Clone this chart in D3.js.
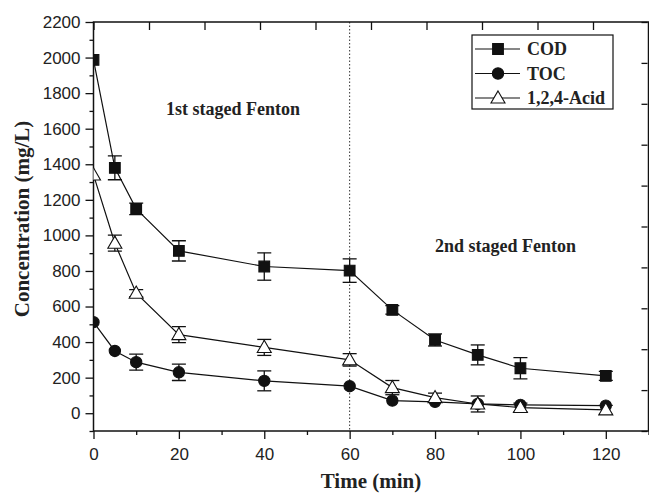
<!DOCTYPE html>
<html>
<head>
<meta charset="utf-8">
<script src="https://cdn.jsdelivr.net/npm/d3@7"></script>
<style>
  body { margin: 0; background: #fff; }
  svg { display: block; }
</style>
</head>
<body>
<svg id="chart" width="649" height="494"></svg>
<script>
// time points (min)
var times = [0, 5, 10, 20, 40, 60, 70, 80, 90, 100, 120];

// COD (mg/L) and error
var cod    = [1987, 1380, 1149, 913, 825, 802, 581, 412, 328, 253, 210];
var codErr = [0, 67, 32, 57, 77, 66, 24, 34, 56, 60, 25];

// TOC (mg/L) and error
var toc    = [512, 350, 287, 230, 182, 152, 71, 64, 52, 47, 43];
var tocErr = [0, 0, 45, 46, 56, 0, 0, 0, 0, 0, 0];

// 1,2,4-Acid (mg/L) and error
var acid    = [1340, 956, 675, 442, 370, 300, 144, 88, 52, 32, 19];
var acidErr = [0, 45, 20, 45, 45, 35, 40, 25, 45, 25, 25];

var xTicks = [0, 20, 40, 60, 80, 100, 120];
var yTicks = [0, 200, 400, 600, 800, 1000, 1200, 1400, 1600, 1800, 2000, 2200];

var svg = d3.select('#chart');
var padL = 93.5, padR = 648.5, padT = 22, padB = 431;

var x = d3.scaleLinear().domain([0, 130]).range([padL, padR]);
var y = d3.scaleLinear().domain([-100, 2200]).range([padB, padT]);

var tickFont = '"Liberation Sans", Arial, sans-serif';
var serif = '"Liberation Serif", "Times New Roman", serif';

svg.append('defs').append('clipPath').attr('id', 'plotclip')
    .append('rect')
    .attr('x', padL).attr('y', padT)
    .attr('width', padR - padL).attr('height', padB - padT);

// dotted separator at 60 min
svg.append('line')
    .attr('x1', x(60)).attr('x2', x(60))
    .attr('y1', padT).attr('y2', padB)
    .attr('stroke', '#333')
    .attr('stroke-width', 1)
    .attr('stroke-dasharray', '1.5,2');

// axes
function styleAxis(g) {
    g.selectAll('.domain').remove();
    g.selectAll('line').attr('stroke', '#111').attr('stroke-width', 1.3);
    g.selectAll('text').attr('font-family', tickFont).attr('font-size', '17px').attr('fill', '#222');
}

// bottom minor
svg.append('g')
    .attr('transform', 'translate(0,' + padB + ')')
    .call(d3.axisBottom(x).tickValues(d3.range(10, 131, 20)).tickSize(4).tickFormat(''))
    .call(styleAxis);
svg.append('g')
    .attr('transform', 'translate(0,' + padB + ')')
    .call(d3.axisBottom(x).tickValues(xTicks).tickSize(8).tickPadding(9).tickFormat(d3.format('d')))
    .call(styleAxis);

// left minor
svg.append('g')
    .attr('transform', 'translate(' + padL + ',0)')
    .call(d3.axisLeft(y).tickValues(d3.range(-100, 2200, 200)).tickSize(4).tickFormat(''))
    .call(styleAxis);
svg.append('g')
    .attr('transform', 'translate(' + padL + ',0)')
    .call(d3.axisLeft(y).tickValues(yTicks).tickSize(8).tickPadding(5).tickFormat(d3.format('d')))
    .call(styleAxis);

// top ticks (10 equal divisions, inward)
var xd = x.domain();
svg.append('g')
    .attr('transform', 'translate(0,' + padT + ')')
    .call(d3.axisBottom(x).tickValues(d3.range(0, 11).map(function(i) { return xd[0] + i * (xd[1] - xd[0]) / 10; })).tickSize(8).tickFormat(''))
    .call(styleAxis);

// right ticks (10 equal divisions, inward)
var yd = y.domain();
svg.append('g')
    .attr('transform', 'translate(' + (padR - 1) + ',0)')
    .call(d3.axisLeft(y).tickValues(d3.range(0, 11).map(function(i) { return yd[0] + i * (yd[1] - yd[0]) / 10; })).tickSize(6).tickFormat(''))
    .call(styleAxis);

// frame
svg.append('rect')
    .attr('x', padL).attr('y', padT)
    .attr('width', padR - padL).attr('height', padB - padT)
    .attr('fill', 'none')
    .attr('stroke', '#111')
    .attr('stroke-width', 1.5);

// series
var series = [
    { name: 'COD', values: cod, err: codErr, symbol: d3.symbolSquare, size: 115, fill: '#111' },
    { name: 'TOC', values: toc, err: tocErr, symbol: d3.symbolCircle, size: 100, fill: '#111' },
    { name: '1,2,4-Acid', values: acid, err: acidErr, symbol: d3.symbolTriangle, size: 85, fill: '#fff' }
];

var plot = svg.append('g').attr('clip-path', 'url(#plotclip)');

var line = d3.line()
    .x(function(d) { return x(d.t); })
    .y(function(d) { return y(d.v); });

series.forEach(function(s) {
    s.points = times.map(function(t, i) { return { t: t, v: s.values[i], e: s.err[i] }; });
    plot.append('path')
        .datum(s.points)
        .attr('d', line)
        .attr('fill', 'none')
        .attr('stroke', '#111')
        .attr('stroke-width', 1.2);
});

// error bars
series.forEach(function(s) {
    var eb = plot.selectAll(null)
        .data(s.points.filter(function(d) { return d.e > 0; }))
        .enter().append('g')
        .attr('stroke', '#111')
        .attr('stroke-width', 1.3);
    eb.append('line')
        .attr('x1', function(d) { return x(d.t); })
        .attr('x2', function(d) { return x(d.t); })
        .attr('y1', function(d) { return y(d.v + d.e); })
        .attr('y2', function(d) { return y(d.v - d.e); });
    [1, -1].forEach(function(sign) {
        eb.append('line')
            .attr('x1', function(d) { return x(d.t) - 7; })
            .attr('x2', function(d) { return x(d.t) + 7; })
            .attr('y1', function(d) { return y(d.v + sign * d.e); })
            .attr('y2', function(d) { return y(d.v + sign * d.e); });
    });
});

// markers
series.forEach(function(s) {
    plot.selectAll(null)
        .data(s.points)
        .enter().append('path')
        .attr('d', d3.symbol().type(s.symbol).size(s.size))
        .attr('transform', function(d) {
            var dy = s.symbol === d3.symbolTriangle ? 1 : 0;
            return 'translate(' + x(d.t) + ',' + (y(d.v) + dy) + ')';
        })
        .attr('fill', s.fill)
        .attr('stroke', '#111')
        .attr('stroke-width', 1.1);
});

// annotations
svg.append('text')
    .attr('x', 166).attr('y', 115)
    .attr('font-family', serif).attr('font-weight', 'bold').attr('font-size', '18px')
    .attr('fill', '#222')
    .text('1st staged Fenton');

svg.append('text')
    .attr('x', 435).attr('y', 252)
    .attr('font-family', serif).attr('font-weight', 'bold').attr('font-size', '18px')
    .attr('fill', '#222')
    .text('2nd staged Fenton');

// legend
var legend = svg.append('g');
legend.append('rect')
    .attr('x', 472).attr('y', 35)
    .attr('width', 141).attr('height', 74)
    .attr('fill', '#fff')
    .attr('stroke', '#111')
    .attr('stroke-width', 1.2);

var ly = d3.scalePoint().domain(series.map(function(s) { return s.name; })).range([49, 98]);

series.forEach(function(s) {
    var yy = ly(s.name);
    legend.append('line')
        .attr('x1', 475).attr('x2', 520)
        .attr('y1', yy).attr('y2', yy)
        .attr('stroke', '#111').attr('stroke-width', 1.2);
    legend.append('path')
        .attr('d', d3.symbol().type(s.symbol).size(s.size))
        .attr('transform', 'translate(498,' + (yy + (s.symbol === d3.symbolTriangle ? 1 : 0)) + ')')
        .attr('fill', s.fill)
        .attr('stroke', '#111')
        .attr('stroke-width', 1.1);
    legend.append('text')
        .attr('x', 527).attr('y', yy + 6)
        .attr('font-family', serif).attr('font-weight', 'bold').attr('font-size', '18px')
        .attr('fill', '#222')
        .text(s.name);
});

// axis titles
svg.append('text')
    .attr('x', (padL + padR) / 2).attr('y', 488)
    .attr('text-anchor', 'middle')
    .attr('font-family', serif).attr('font-weight', 'bold').attr('font-size', '21px')
    .attr('fill', '#222')
    .text('Time (min)');

svg.append('text')
    .attr('transform', 'translate(29,219) rotate(-90)')
    .attr('text-anchor', 'middle')
    .attr('font-family', serif).attr('font-weight', 'bold').attr('font-size', '21px')
    .attr('fill', '#222')
    .text('Concentration (mg/L)');
</script>
</body>
</html>
